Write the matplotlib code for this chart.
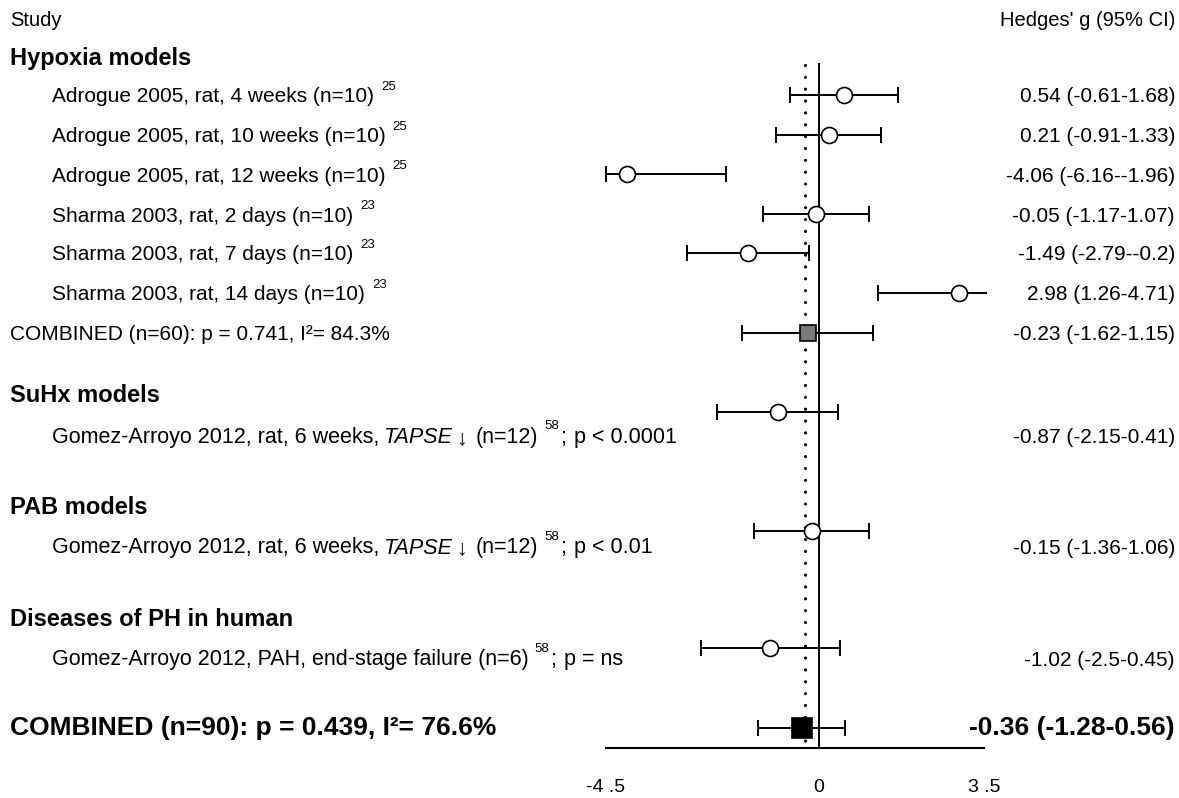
import matplotlib
matplotlib.use("Agg")
import matplotlib.pyplot as plt
import numpy as np

plt.rcParams['font.family'] = ['Liberation Sans', 'DejaVu Sans']

# data
study_labels = ["Adrogue 2005, rat, 4 weeks (n=10)",
                "Adrogue 2005, rat, 10 weeks (n=10)",
                "Adrogue 2005, rat, 12 weeks (n=10)",
                "Sharma 2003, rat, 2 days (n=10)",
                "Sharma 2003, rat, 7 days (n=10)",
                "Sharma 2003, rat, 14 days (n=10)"]
study_refs = ["25", "25", "25", "23", "23", "23"]
hedges_g = [0.54, 0.21, -4.06, -0.05, -1.49, 2.98]
ci_low = [-0.61, -0.91, -6.16, -1.17, -2.79, 1.26]
ci_high = [1.68, 1.33, -1.96, 1.07, -0.2, 4.71]

hypoxia_combined = [-0.23, -1.62, 1.15]
suhx_study = [-0.87, -2.15, 0.41]
pab_study = [-0.15, -1.36, 1.06]
human_study = [-1.02, -2.5, 0.45]
overall_combined = [-0.36, -1.28, 0.56]
dotted_x = -0.28

x_ticks = [-4.5, 0, 3.5]
x_tick_labels = ["-4 .5", "0", "3 .5"]

W, H = 1179, 798
fig = plt.figure(figsize=(W / 100, H / 100), dpi=100)
# forest panel: x from -4.5..3.5 at px 606..984, y in pixels from top
ax_bottom_px = 748
ax = fig.add_axes([606 / W, (H - ax_bottom_px) / H, 378 / W, ax_bottom_px / H])
ax.set_xlim(-4.5, 3.5)
ax.set_ylim(ax_bottom_px, 0)
for s in ['top', 'left', 'right']:
    ax.spines[s].set_visible(False)
ax.spines['bottom'].set_linewidth(1.5)
ax.set_yticks([])
ax.set_xticks(x_ticks)
ax.set_xticklabels(x_tick_labels, fontsize=14)
ax.tick_params(axis='x', length=0, pad=22)
ax.patch.set_alpha(0)


def fx(px):
    return px / W


def fy(py):
    return 1 - py / H


def fmt_ci(v):
    return f"{v[0]:g} ({v[1]:g}-{v[2]:g})"


def draw_ci(y, g, lo, hi, marker='o', size=11.5, face='white'):
    xmin, xmax = ax.get_xlim()
    l = max(lo, xmin)
    h = min(hi, xmax + 0.06)
    ax.hlines(y, l, h, color='black', lw=1.4, clip_on=False, zorder=2)
    caps = [l] if hi > xmax else [l, h]
    ax.plot(caps, [y] * len(caps), ls='none', marker='|', ms=11, mew=1.4,
            color='black', clip_on=False, zorder=2)
    ax.plot([g], [y], ls='none', marker=marker, ms=size, mfc=face, mec='black',
            mew=1.2, clip_on=False, zorder=4)


# vertical lines
ax.vlines(0, 63, ax_bottom_px, color='black', lw=1.4, zorder=1)
ax.vlines(dotted_x, 65, 744, color='black', lw=2.3, linestyles=[(0, (0.01, 3.7))],
          capstyle='round', zorder=1)

fig.canvas.draw()
renderer = fig.canvas.get_renderer()


def chain(x, y, pieces):
    # pieces: (text, dy, gap_before, kwargs)
    for s, dy, gap, kw in pieces:
        x += gap
        t = fig.text(fx(x), fy(y + dy), s, va='center', ha='left', **kw)
        x = t.get_window_extent(renderer).x1
    return x


normal = dict(fontsize=15)
sup = dict(fontsize=9.5)

# headers
fig.text(fx(10), fy(21), "Study", va='center', fontsize=14.5)
fig.text(fx(1175), fy(21), "Hedges' g (95% CI)", va='center', ha='right', fontsize=14.5)

# hypoxia models
fig.text(fx(10), fy(58), "Hypoxia models", va='center', fontsize=17, fontweight='bold')
study_y = [95, 135, 174, 214, 253, 293]
for lab, ref, g, lo, hi, y in zip(study_labels, study_refs, hedges_g, ci_low, ci_high, study_y):
    chain(52, y + 2, [(lab, 0, 0, normal), (ref, -10, 7, sup)])
    draw_ci(y, g, lo, hi)
    fig.text(fx(1175), fy(y + 2), fmt_ci([g, lo, hi]), va='center', ha='right', fontsize=15)

fig.text(fx(10), fy(334), "COMBINED (n=60): p = 0.741, I²= 84.3%", va='center', fontsize=15)
draw_ci(333, *hypoxia_combined, marker='s', size=11.5, face='#7a7a7a')
fig.text(fx(1175), fy(335), fmt_ci(hypoxia_combined), va='center', ha='right', fontsize=15)

# single-study subgroups
narrow = dict(fontsize=15.5)
narrow_it = dict(narrow, style='italic')
narrow_sup = dict(fontsize=9.5)
subgroups = [
    ("SuHx models", 396, 412, 436, suhx_study,
     [("Gomez-Arroyo 2012, rat, 6 weeks,", 0, 0, narrow), ("TAPSE", 0, 4, narrow_it),
      ("↓", 2, 4, narrow), ("(n=12)", 0, 9, narrow), ("58", -11, 6, narrow_sup),
      (";", 0, 1, narrow), ("p < 0.0001", 0, 8, narrow)]),
    ("PAB models", 508, 531, 547, pab_study,
     [("Gomez-Arroyo 2012, rat, 6 weeks,", 0, 0, narrow), ("TAPSE", 0, 4, narrow_it),
      ("↓", 2, 4, narrow), ("(n=12)", 0, 9, narrow), ("58", -11, 6, narrow_sup),
      (";", 0, 1, narrow), ("p < 0.01", 0, 8, narrow)]),
    ("Diseases of PH in human", 620, 648, 659, human_study,
     [("Gomez-Arroyo 2012, PAH, end-stage failure (n=6)", 0, 0, narrow),
      ("58", -11, 6, narrow_sup), (";", 0, 1, narrow), ("p = ns", 0, 8, narrow)]),
]
for head, hy, my, ty, vals, pieces in subgroups:
    fig.text(fx(10), fy(hy), head, va='center', fontsize=17, fontweight='bold')
    draw_ci(my, *vals)
    chain(52, ty + 1, pieces)
    fig.text(fx(1175), fy(ty + 1), fmt_ci(vals), va='center', ha='right', fontsize=15)

# overall
fig.text(fx(10), fy(728), "COMBINED (n=90): p = 0.439, I²= 76.6%", va='center',
         fontsize=19, fontweight='bold')
draw_ci(728, *overall_combined, marker='s', size=15, face='black')
fig.text(fx(1175), fy(728), fmt_ci(overall_combined), va='center', ha='right',
         fontsize=19, fontweight='bold')

fig.savefig("out.png", dpi=100)
